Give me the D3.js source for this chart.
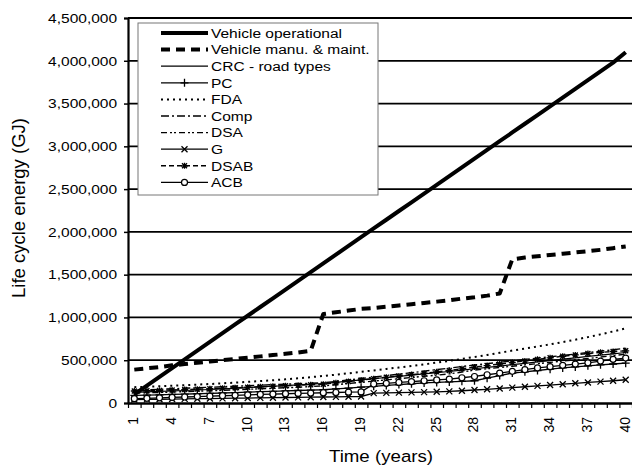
<!DOCTYPE html>
<html>
<head>
<meta charset="utf-8">
<script src="https://cdn.jsdelivr.net/npm/d3@7"></script>
<style>
body { margin: 0; background: #fff; }
svg { font-family: "Liberation Sans", Arial, sans-serif; }
</style>
</head>
<body>
<svg id="chart" width="632" height="466"></svg>
<script>
// years on the category axis
var years = d3.range(1, 41);
var yTicks = [0, 500000, 1000000, 1500000, 2000000, 2500000, 3000000, 3500000, 4000000, 4500000];

// series values (GJ)
var vehOper = [102000,204000,306000,408000,510000,612000,714000,816000,918000,1020000,
  1122000,1224000,1326000,1428000,1530000,1632000,1734000,1836000,1938000,2040000,
  2142000,2244000,2346000,2448000,2550000,2652000,2754000,2856000,2958000,3060000,
  3162000,3264000,3366000,3468000,3570000,3672000,3774000,3876000,3978000,4100000];
var vehManu = [390000,405000,420000,440000,455000,470000,485000,500000,515000,530000,
  545000,560000,575000,590000,610000,1040000,1060000,1080000,1100000,1110000,
  1125000,1140000,1155000,1170000,1185000,1200000,1220000,1235000,1255000,1280000,
  1680000,1700000,1715000,1730000,1745000,1760000,1775000,1790000,1810000,1830000];
var crc = [125000,130000,135000,140000,146000,152000,158000,165000,172000,180000,
  188000,196000,204000,212000,220000,228000,242000,256000,270000,284000,
  298000,312000,326000,340000,354000,368000,384000,400000,416000,432000,
  448000,464000,480000,496000,512000,528000,544000,560000,575000,590000];
var pc = [90000,93000,96000,100000,104000,108000,112000,117000,122000,127000,
  132000,137000,142000,146000,150000,155000,165000,175000,185000,195000,
  205000,215000,225000,235000,240000,246000,253000,260000,290000,320000,
  350000,365000,380000,395000,410000,422000,434000,446000,456000,465000];
var fda = [185000,190000,196000,202000,208000,215000,222000,230000,238000,247000,
  256000,266000,277000,289000,302000,316000,331000,347000,364000,381000,
  398000,415000,433000,452000,472000,493000,515000,538000,562000,587000,
  613000,636000,660000,685000,712000,740000,770000,802000,836000,872000];
var comp = [150000,155000,160000,166000,172000,178000,184000,190000,196000,202000,
  208000,214000,220000,226000,230000,235000,252000,269000,286000,303000,
  320000,337000,354000,372000,390000,408000,426000,444000,460000,476000,
  492000,508000,524000,540000,556000,572000,590000,606000,622000,640000];
var dsa = [115000,119000,123000,128000,133000,138000,143000,148000,154000,160000,
  166000,172000,178000,184000,192000,200000,214000,228000,242000,256000,
  270000,284000,298000,312000,326000,340000,362000,385000,400000,415000,
  430000,445000,460000,475000,490000,505000,520000,537000,553000,570000];
var gSer = [40000,42000,44000,46000,48000,50000,52000,54000,56000,58000,
  60000,62000,64000,66000,68000,70000,72000,74000,76000,115000,
  118000,121000,124000,127000,131000,136000,143000,152000,160000,170000,
  180000,190000,200000,210000,220000,230000,240000,250000,260000,272000];
var dsab = [140000,144000,148000,152000,157000,162000,167000,172000,178000,184000,
  190000,196000,202000,208000,214000,220000,236000,252000,268000,284000,
  300000,316000,332000,348000,364000,380000,400000,420000,438000,456000,
  474000,492000,510000,528000,546000,562000,578000,592000,602000,610000];
var acb = [50000,55000,60000,65000,70000,75000,80000,85000,90000,95000,
  100000,104000,108000,112000,116000,120000,123000,126000,130000,222000,
  230000,240000,250000,260000,270000,280000,295000,310000,330000,350000,
  370000,390000,410000,425000,440000,455000,470000,490000,510000,525000];

var seriesNames = ["Vehicle operational", "Vehicle manu. & maint.", "CRC - road types", "PC", "FDA",
  "Comp", "DSA", "G", "DSAB", "ACB"];
var seriesData = [vehOper, vehManu, crc, pc, fda, comp, dsa, gSer, dsab, acb];
var seriesStyle = [
  {w: 4, dash: null, mark: null},
  {w: 4, dash: "9,6", mark: null},
  {w: 1.2, dash: null, mark: null},
  {w: 1.3, dash: null, mark: "plus"},
  {w: 2, dash: "2,4", mark: null},
  {w: 1.4, dash: "8,3,2,3", mark: null},
  {w: 1.4, dash: "6,3,2,2,2,3", mark: null},
  {w: 1.3, dash: null, mark: "cross"},
  {w: 1.4, dash: "5,3", mark: "star"},
  {w: 1.3, dash: null, mark: "circle"}
];

var svg = d3.select("#chart");
var mLeft = 128, mRight = 632, mTop = 18, mBottom = 403;
var stretch = "scale(1.15,1)";

var x = d3.scaleBand().domain(years).range([mLeft, mRight]).padding(0);
var xEdge = d3.scaleLinear().domain([0, 40]).range([mLeft, mRight]);
var y = d3.scaleLinear().domain([0, 4500000]).range([mBottom, mTop]);

// gridlines
svg.append("g")
  .selectAll("line")
  .data(yTicks.slice(1))
  .join("line")
  .attr("x1", mLeft).attr("x2", mRight)
  .attr("y1", d => y(d)).attr("y2", d => y(d))
  .attr("stroke", "#000").attr("stroke-width", 1.8);

// y axis
var yAxis = svg.append("g")
  .attr("transform", "translate(" + mLeft + ",0)")
  .call(d3.axisLeft(y).tickValues(yTicks).tickFormat(d3.format(",")).tickSize(4).tickPadding(5.5));
yAxis.select(".domain").attr("stroke-width", 2.2);
yAxis.selectAll(".tick line").attr("stroke-width", 1.5);
yAxis.selectAll("text").attr("font-size", 13.5).attr("fill", "#000")
  .attr("font-family", "'Liberation Sans', Arial, sans-serif")
  .attr("transform", stretch);

// x axis: ticks between categories, labels every 3rd year
var xTickAxis = svg.append("g")
  .attr("transform", "translate(0," + mBottom + ")")
  .call(d3.axisBottom(xEdge).tickValues(d3.range(0, 41)).tickFormat("").tickSize(5).tickSizeOuter(0));
xTickAxis.select(".domain").attr("stroke-width", 2.6);
xTickAxis.selectAll(".tick line").attr("stroke-width", 1.2);

var xLab = svg.append("g")
  .attr("transform", "translate(0," + mBottom + ")")
  .call(d3.axisBottom(x).tickValues(years.filter(d => d % 3 === 1)).tickSize(0));
xLab.select(".domain").remove();
xLab.selectAll("text")
  .attr("font-size", 14).attr("fill", "#000")
  .attr("font-family", "'Liberation Sans', Arial, sans-serif")
  .attr("transform", "rotate(-90)")
  .attr("text-anchor", "end")
  .attr("x", -14).attr("y", -1).attr("dy", "0.35em");

// axis titles
svg.append("text")
  .attr("transform", "translate(25,208) rotate(-90)")
  .attr("text-anchor", "middle")
  .attr("font-size", 18.5)
  .text("Life cycle energy (GJ)");
svg.append("text")
  .attr("transform", "translate(381,462) scale(1.1,1)")
  .attr("text-anchor", "middle")
  .attr("font-size", 17)
  .text("Time (years)");

function markerPath(type) {
  if (type === "plus") return "M-4,0H4M0,-4V4";
  if (type === "cross") return "M-3,-3L3,3M-3,3L3,-3";
  if (type === "star") return "M-3.5,0H3.5M-2.5,-2.5L2.5,2.5M-2.5,2.5L2.5,-2.5M0,-3V3";
  return null;
}

function drawMarker(g, type, cx, cy) {
  if (type === "circle") {
    g.append("circle").attr("cx", cx).attr("cy", cy).attr("r", 3)
      .attr("fill", "#fff").attr("stroke", "#000").attr("stroke-width", 1.2);
  } else {
    g.append("path").attr("d", markerPath(type))
      .attr("transform", "translate(" + cx + "," + cy + ")")
      .attr("fill", "none").attr("stroke", "#000").attr("stroke-width", 1.3);
  }
}

var line = d3.line()
  .x((d, i) => x(years[i]) + x.bandwidth() / 2)
  .y(d => y(d));

// draw low series first, heavy series on top
var order = [2, 3, 4, 5, 6, 7, 8, 9, 1, 0];
var plot = svg.append("g");
order.forEach(function(k) {
  var st = seriesStyle[k];
  var g = plot.append("g");
  g.append("path")
    .datum(seriesData[k])
    .attr("d", line)
    .attr("fill", "none")
    .attr("stroke", "#000")
    .attr("stroke-width", st.w)
    .attr("stroke-dasharray", st.dash)
    .attr("stroke-linejoin", "round");
  if (st.mark) {
    seriesData[k].forEach(function(v, i) {
      drawMarker(g, st.mark, x(years[i]) + x.bandwidth() / 2, y(v));
    });
  }
});

// legend
var leg = svg.append("g");
leg.append("rect")
  .attr("x", 138).attr("y", 23).attr("width", 240).attr("height", 172)
  .attr("fill", "#fff").attr("stroke", "#777").attr("stroke-width", 1);
seriesNames.forEach(function(name, i) {
  var st = seriesStyle[i];
  var cy = 33 + i * 16.6;
  var row = leg.append("g");
  row.append("line")
    .attr("x1", 161).attr("x2", 208).attr("y1", cy).attr("y2", cy)
    .attr("stroke", "#000").attr("stroke-width", st.w)
    .attr("stroke-dasharray", st.dash);
  if (st.mark) drawMarker(row, st.mark, 184.5, cy);
  row.append("text")
    .attr("transform", "translate(211," + cy + ") " + stretch)
    .attr("dy", "0.36em")
    .attr("font-size", 13.5)
    .text(name);
});
</script>
</body>
</html>
